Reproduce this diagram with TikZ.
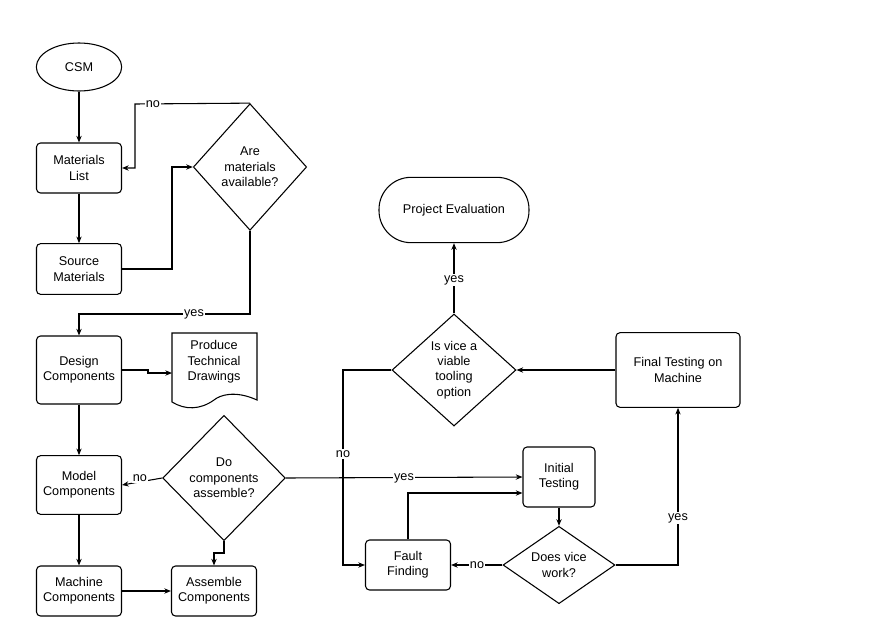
\documentclass[tikz,border=0pt]{standalone}
\usepackage{fontspec}
\setmainfont{Liberation Sans}
\usetikzlibrary{shapes.geometric,arrows.meta}
\begin{document}
\begin{tikzpicture}[x=0.75pt,y=-0.75pt,
  every node/.style={font=\fontsize{9.5}{11.5}\selectfont,align=center,line width=0.8pt},
  box/.style={draw,rounded corners=3pt,minimum width=63.75pt,minimum height=#1,inner sep=1pt},
  dia/.style={draw,diamond,inner sep=0pt},
  lab/.style={fill=white,inner sep=1pt},
  arr/.style={draw,line width=0.8pt,-{Stealth[length=5pt,width=4pt]}},
  ln/.style={draw,line width=0.8pt}]
\useasboundingbox (0,0) rectangle (889,643);
\node[draw,ellipse,minimum width=64pt,minimum height=36pt] (csm) at (79,67) {CSM};
\node[box=37.5pt] (ml) at (79,168) {Materials\\List};
\node[dia,minimum width=85pt,minimum height=95pt,aspect=0.9] (am) at (250,167) {Are\\materials\\available?};
\node[box=38pt] (sm) at (79,269) {Source\\Materials};
\node[draw,rounded corners=24pt,minimum width=112.5pt,minimum height=49pt] (pe) at (454,210) {Project Evaluation};
\node[box=51pt] (dc) at (79,370) {Design\\Components};
\node[minimum width=63.75pt,minimum height=50pt,inner sep=1pt] (pt) at (214,362) {Produce\\Technical\\Drawings};
\draw[line width=0.8pt] (172,333) -- (257,333) -- (257,400) .. controls (235,390) and (220,395) .. (214,400) .. controls (200,410) and (185,410) .. (172,402) -- cycle;
\node[dia,minimum width=93pt,minimum height=84pt,aspect=1.1] (iv) at (454,370) {Is vice a\\viable\\tooling\\option};
\node[box=56pt,minimum width=93pt] (ft) at (678,370) {Final Testing on\\Machine};
\node[box=44pt] (mc) at (79,485) {Model\\Components};
\node[dia,minimum width=92pt,minimum height=94pt,aspect=1] (da) at (224,478) {Do\\components\\assemble?};
\node[box=45pt,minimum width=54pt] (it) at (559,477) {Initial\\Testing};
\node[dia,minimum width=84pt,minimum height=58pt,aspect=1.45] (dv) at (559,565) {Does vice\\work?};
\node[box=37.5pt] (ff) at (408,565) {Fault\\Finding};
\node[box=37.5pt] (mac) at (79,591) {Machine\\Components};
\node[box=37.5pt] (ac) at (214,591) {Assemble\\Components};
% connectors
\path[arr] (csm) -- (ml);
\path[arr] (am.north) -- (135,104) -- (135,168) -- (ml.east);
\node[lab] at (153,104) {no};
\path[arr] (ml) -- (sm);
\path[arr] (sm.east) -- (172,269) -- (172,167) -- (am.west);
\path[arr] (am.south) -- (250,314) -- (79,314) -- (dc.north);
\node[lab] at (194,314) {yes};
\path[arr] (dc.east) -- (148,370) -- (148,373) -- (172,373);
\path[arr] (dc) -- (mc);
\path[arr] (da.west) -- (mc.east);
\node[lab] at (140,478) {no};
\path[arr] (da.south) -- (224,553) -- (214,553) -- (ac.north);
\path[arr] (mc) -- (mac);
\path[arr] (mac) -- (ac);
\path[arr] (da.east) -- (it.west);
\node[lab] at (404,478) {yes};
\path[arr] (it) -- (dv);
\path[arr] (dv.west) -- (ff.east);
\node[lab] at (477,565) {no};
\path[arr] (ff.north) -- (408,493) -- (it.west |- 0,493);
\path[arr] (dv.east) -- (678,565) -- (ft.south);
\node[lab] at (678,518) {yes};
\path[arr] (ft.west) -- (iv.east);
\path[arr] (iv.north) -- (pe.south);
\node[lab] at (454,280) {yes};
\path[arr] (iv.west) -- (343,370) -- (343,565) -- (ff.west);
\node[lab] at (343,454) {no};
\end{tikzpicture}
\end{document}
